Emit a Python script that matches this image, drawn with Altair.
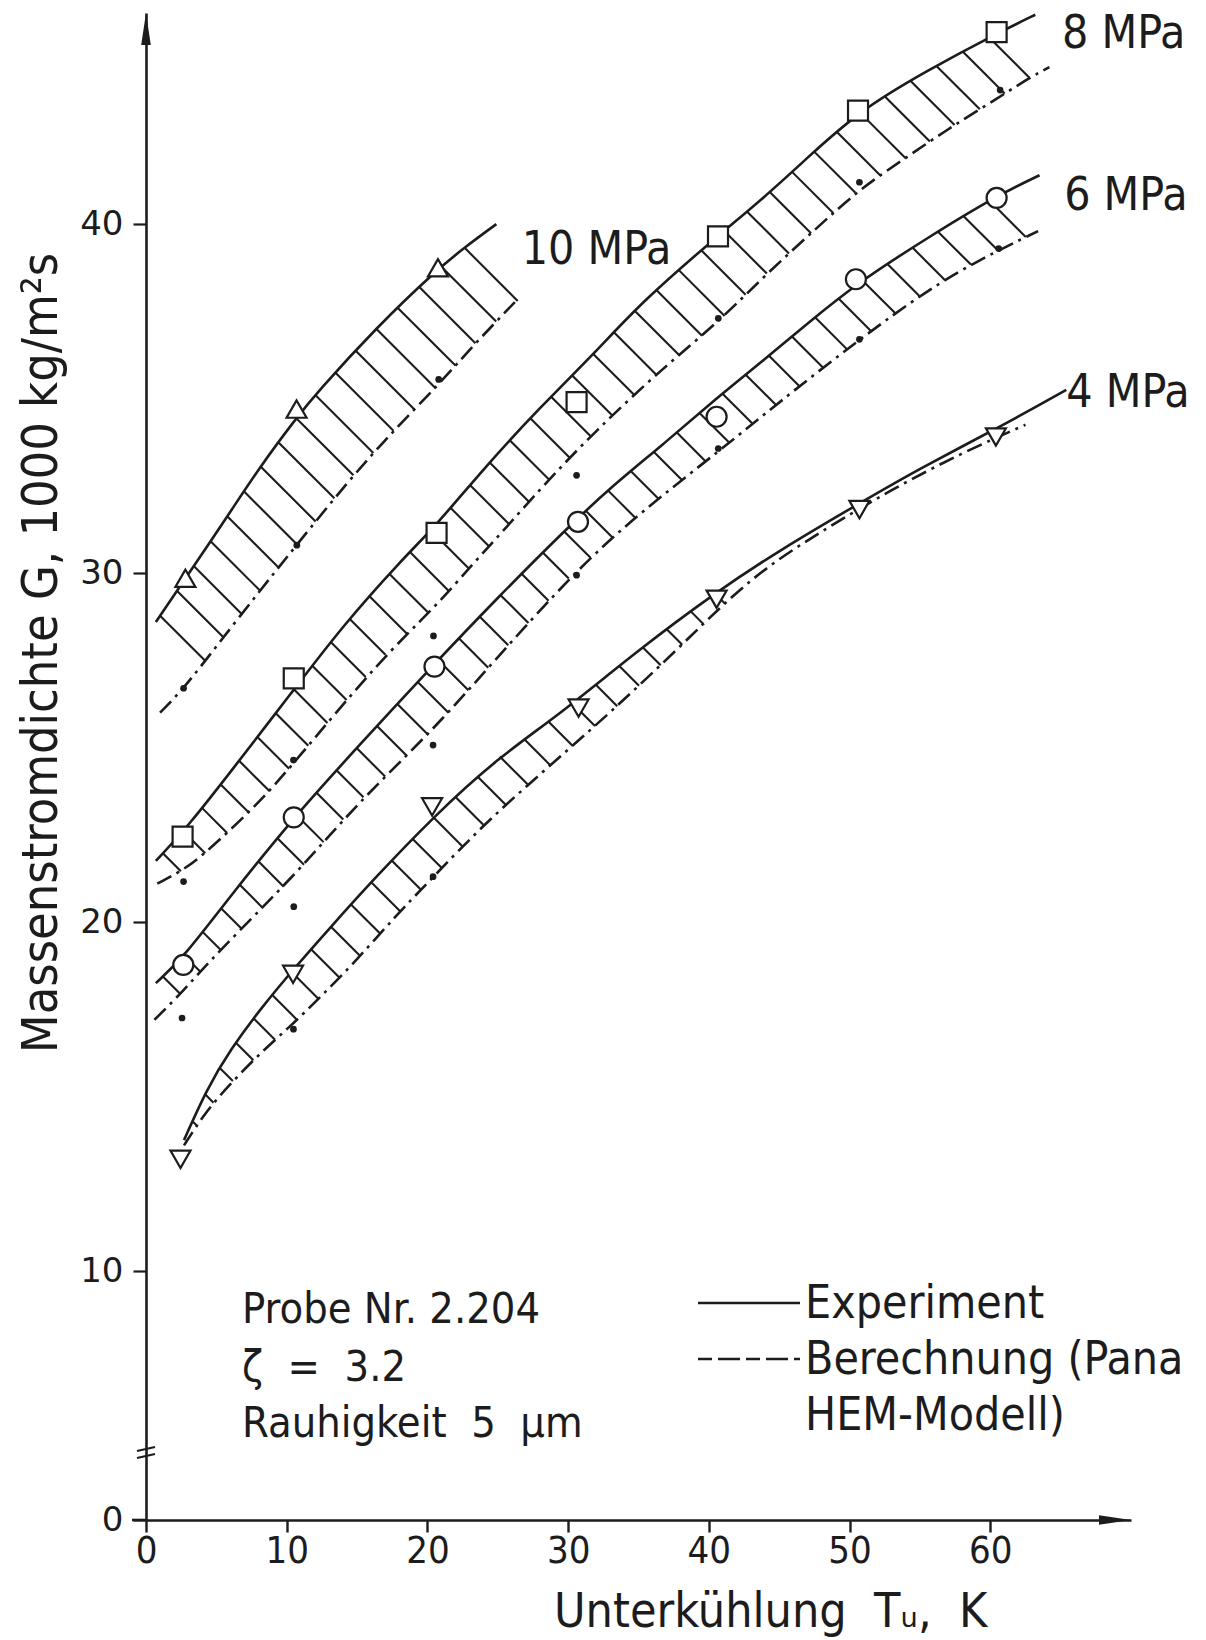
import numpy as np
import pandas as pd
import altair as alt

# ---------------------------------------------------------------------------
# Massenstromdichte G (1000 kg/m^2 s) over Unterkühlung T_u (K), Probe Nr. 2.204
# ---------------------------------------------------------------------------

# Experiment (solid curves)
exp10_x = [0.7, 2.8, 5.75, 8.1, 10.7, 12.1, 16.4, 20.7, 22.7, 24.9]
exp10_y = [28.6, 29.85, 31.6, 33.05, 34.45, 35.15, 37.05, 38.7, 39.35, 40.0]

exp8_x = [0.7, 3.1, 6.0, 10.4, 14.0, 18.1, 20.7, 24.0, 28.0, 32.0, 35.3, 40.6, 43.9, 47.0, 50.7, 55.5, 60.4, 63.2]
exp8_y = [21.75, 22.8, 24.3, 26.6, 28.5, 30.35, 31.4, 33.0, 34.75, 36.35, 37.8, 39.65, 40.75, 41.9, 43.25, 44.4, 45.45, 46.0]

exp6_x = [0.7, 2.7, 6.0, 10.5, 15.0, 20.5, 25.0, 29.7, 33.0, 36.8, 40.5, 43.9, 47.0, 50.5, 55.7, 60.4, 63.5]
exp6_y = [18.25, 19.0, 20.75, 23.0, 25.0, 27.4, 29.3, 31.2, 32.45, 33.7, 35.0, 36.1, 37.15, 38.3, 39.65, 40.8, 41.4]

exp4_x = [2.7, 4.3, 6.0, 8.3, 10.7, 13.0, 16.0, 20.5, 25.0, 29.4, 35.0, 40.5, 45.0, 50.7, 55.0, 61.2, 65.4]
exp4_y = [13.75, 15.2, 16.35, 17.6, 18.75, 19.8, 21.15, 23.05, 24.7, 25.95, 27.8, 29.45, 30.65, 32.0, 33.0, 34.3, 35.25]

# Berechnung, Pana HEM-Modell (dash-dot curves)
calc10_x = [1.0, 2.7, 5.0, 8.3, 10.7, 14.3, 17.4, 20.8, 23.2, 26.3]
calc10_y = [26.0, 26.7, 27.9, 29.6, 30.8, 32.6, 34.0, 35.4, 36.5, 37.8]

calc8_x = [0.8, 2.7, 4.3, 8.0, 10.4, 16.6, 20.5, 23.3, 25.6, 28.2, 32.0, 36.8, 40.7, 43.9, 47.7, 50.7, 54.0, 56.9, 59.7, 62.8, 64.2]
calc8_y = [21.1, 21.5, 22.0, 23.4, 24.5, 27.5, 29.0, 30.3, 31.3, 32.5, 34.1, 35.9, 37.2, 38.5, 39.9, 41.0, 41.9, 42.7, 43.4, 44.2, 44.5]

calc6_x = [0.6, 2.6, 5.0, 10.5, 15.0, 20.3, 25.0, 30.5, 35.0, 40.9, 45.0, 50.7, 55.5, 59.3, 63.4]
calc6_y = [17.2, 18.0, 19.1, 21.3, 23.4, 25.45, 27.6, 30.05, 31.7, 33.55, 34.9, 36.7, 38.1, 39.0, 39.8]

calc4_x = [2.7, 4.3, 6.3, 8.4, 10.5, 12.5, 14.5, 17.8, 20.2, 24.0, 28.6, 33.0, 38.0, 43.0, 48.0, 53.0, 58.0, 62.5]
calc4_y = [13.6, 14.6, 15.5, 16.35, 17.1, 17.9, 18.7, 20.2, 21.2, 22.8, 24.45, 26.0, 27.9, 29.9, 31.2, 32.4, 33.45, 34.25]

# Measured points (open symbols)
pts10_x = [2.8, 10.7, 20.75]
pts10_y = [29.85, 34.7, 38.75]
pts8_x = [2.6, 10.5, 20.65, 30.6, 40.65, 50.6, 60.45]
pts8_y = [22.45, 26.98, 31.15, 34.9, 39.65, 43.25, 45.5]
pts6_x = [2.65, 10.5, 20.5, 30.7, 40.55, 50.45, 60.45]
pts6_y = [18.77, 23.0, 27.32, 31.47, 34.48, 38.42, 40.75]
pts4_x = [2.45, 10.45, 20.33, 30.74, 40.55, 50.7, 60.4]
pts4_y = [13.2, 18.5, 23.3, 26.13, 29.25, 31.82, 33.9]

# Calculated points (small dots)
dot10_x = [2.67, 10.72, 20.8]
dot10_y = [26.7, 30.8, 35.55]
dot8_x = [2.67, 10.48, 20.43, 30.6, 40.67, 50.7, 60.7]
dot8_y = [21.16, 24.64, 28.2, 32.8, 37.3, 41.2, 43.84]
dot6_x = [2.56, 10.5, 20.4, 30.6, 40.67, 50.7, 60.6]
dot6_y = [17.25, 20.44, 25.07, 29.94, 33.57, 36.7, 39.3]
dot4_x = [10.48, 20.4]
dot4_y = [16.93, 21.3]

# Pressure labels
press_labels = ["10 MPa", "8 MPa", "6 MPa", "4 MPa"]
press_label_x = [26.7, 65.1, 65.25, 65.4]
press_label_y = [38.85, 45.05, 40.4, 34.75]

# hatched band range (Unterkühlung) per pressure
hatch_from = [1.0, 1.2, 1.2, 3.3]
hatch_to = [23.0, 61.0, 61.5, 42.0]

x_ticks = [0, 10, 20, 30, 40, 50, 60]
y_ticks = [0, 10, 20, 30, 40]

NB = "\u00a0"
info_lines = ["Probe Nr. 2.204", f"\u03b6{NB}{NB}={NB}{NB}3.2", f"Rauhigkeit{NB}{NB}5{NB}{NB}\u00b5m"]
legend_lines = ["Experiment", "Berechnung (Pana", "HEM-Modell)"]
x_title = f"Unterk\u00fchlung{NB}{NB}T\u1d64,{NB}{NB}K"
y_title = "Massenstromdichte G, 1000 kg/m\u00b2s"

# ---------------------------------------------------------------------------
INK = "#1c1c1c"
FONT = "DejaVu Sans Condensed, DejaVu Sans, sans-serif"
NARROW = "Liberation Sans Narrow, DejaVu Sans Condensed, sans-serif"

PLOT_W, PLOT_H = 985, 1507
X_MAX = 70.0
Y_TOP = 46.05
Y10_PX = 1258          # broken axis: 0..10 compressed below this pixel
KX = PLOT_W / X_MAX
KY = Y10_PX / (Y_TOP - 10.0)

xs_scale = alt.Scale(domain=[0, X_MAX], nice=False, zero=False)
ys_scale = alt.Scale(domain=[0, 10, Y_TOP], range=[PLOT_H, Y10_PX, 0], nice=False, zero=False)

AX = alt.Axis(values=x_ticks, title=None, grid=False, tickSize=12, tickWidth=2.4, domainWidth=2.6,
              domainColor=INK, tickColor=INK, labelColor=INK, labelFont=NARROW, labelFontSize=38,
              labelPadding=0, labelFlush=False)
AY = alt.Axis(values=y_ticks, title=None, grid=False, tickSize=13, tickWidth=2.2, domainWidth=2.6,
              domainColor=INK, tickColor=INK, labelColor=INK, labelFont="DejaVu Sans", labelFontSize=34,
              labelPadding=10, labelFlush=False)

exp_curves = {"10": (exp10_x, exp10_y), "8": (exp8_x, exp8_y), "6": (exp6_x, exp6_y), "4": (exp4_x, exp4_y)}
calc_curves = {"10": (calc10_x, calc10_y), "8": (calc8_x, calc8_y), "6": (calc6_x, calc6_y), "4": (calc4_x, calc4_y)}


def curve_frame(curves):
    rows = []
    for key, (cx, cy) in curves.items():
        for i, (a, b) in enumerate(zip(cx, cy)):
            rows.append({"p": key, "i": i, "x": a, "y": b})
    return pd.DataFrame(rows)


def hatch_rows(key, sx, sy, dx, dy, x_from, x_to, step=30.0):
    """Short 45-degree strokes from the solid curve down to the dash-dot curve."""
    xs = np.linspace(sx[0], sx[-1], 3000)
    ys = np.interp(xs, sx, sy)
    arc = np.concatenate([[0.0], np.cumsum(np.hypot(np.diff(xs) * KX, np.diff(ys) * KY))])
    a0, a1 = np.interp(x_from, xs, arc), np.interp(x_to, xs, arc)
    rows = []
    for a in np.arange(a0, a1 + 1e-9, step):
        x0, y0 = np.interp(a, arc, xs), np.interp(a, arc, ys)

        def gap(t):
            return (y0 - t / KY) - np.interp(x0 + t / KX, dx, dy)

        lo, hi = 0.0, 300.0
        if gap(hi) > 0:
            continue
        for _ in range(50):
            mid = 0.5 * (lo + hi)
            if gap(mid) > 0:
                lo = mid
            else:
                hi = mid
        rows.append({"p": key, "x": x0, "y": y0, "x2": x0 + hi / KX, "y2": y0 - hi / KY})
    return rows


hatch = []
for k, key in enumerate(["10", "8", "6", "4"]):
    sx, sy = exp_curves[key]
    dx, dy = calc_curves[key]
    hatch += hatch_rows(key, sx, sy, dx, dy, hatch_from[k], hatch_to[k])
hatch_df = pd.DataFrame(hatch)

pts_df = pd.DataFrame(
    [{"p": "10", "x": a, "y": b} for a, b in zip(pts10_x, pts10_y)]
    + [{"p": "8", "x": a, "y": b} for a, b in zip(pts8_x, pts8_y)]
    + [{"p": "6", "x": a, "y": b} for a, b in zip(pts6_x, pts6_y)]
    + [{"p": "4", "x": a, "y": b} for a, b in zip(pts4_x, pts4_y)]
)
dots_df = pd.DataFrame(
    [{"x": a, "y": b} for a, b in zip(dot10_x + dot8_x + dot6_x + dot4_x, dot10_y + dot8_y + dot6_y + dot4_y)]
)
lab_df = pd.DataFrame({"t": press_labels, "x": press_label_x, "y": press_label_y})

X = lambda f="x": alt.X(f"{f}:Q", scale=xs_scale, axis=AX)
Y = lambda f="y": alt.Y(f"{f}:Q", scale=ys_scale, axis=AY)

solid = alt.Chart(curve_frame(exp_curves)).mark_line(
    interpolate="basis", color=INK, strokeWidth=2.6
).encode(x=X(), y=Y(), detail="p:N", order="i:Q")

dashed = alt.Chart(curve_frame(calc_curves)).mark_line(
    interpolate="basis", color=INK, strokeWidth=2.6, strokeDash=[16, 6, 3, 6]
).encode(x=X(), y=Y(), detail="p:N", order="i:Q")

hatches = alt.Chart(hatch_df).mark_rule(color=INK, strokeWidth=2.1).encode(
    x=X(), y=Y(), x2="x2:Q", y2="y2:Q"
)

symbols = alt.Chart(pts_df).mark_point(
    filled=True, fill="white", fillOpacity=1, stroke=INK, strokeWidth=2.2, size=400, opacity=1
).encode(
    x=X(), y=Y(),
    shape=alt.Shape("p:N", scale=alt.Scale(domain=["10", "8", "6", "4"],
                                           range=["triangle-up", "square", "circle", "triangle-down"]),
                    legend=None),
)

dots = alt.Chart(dots_df).mark_circle(size=45, color=INK, opacity=1).encode(x=X(), y=Y())

labels = alt.Chart(lab_df).mark_text(
    font=FONT, fontSize=46, align="left", baseline="alphabetic", color=INK
).encode(x=X(), y=Y(), text="t:N")

one = pd.DataFrame({"a": [0]})


def ptext(txt, px, py, size=46, angle=0, align="left", baseline="alphabetic"):
    kw = dict(font=FONT, fontSize=size, align=align, baseline=baseline, color=INK, text=txt)
    if angle:
        kw["angle"] = angle
    return alt.Chart(one).mark_text(**kw).encode(x=alt.value(px), y=alt.value(py))


def prule(x1, x2, y1, y2, width=2.4, dash=None):
    kw = dict(color=INK, strokeWidth=width)
    if dash:
        kw["strokeDash"] = dash
    return alt.Chart(one).mark_rule(**kw).encode(
        x=alt.value(x1), x2=alt.value(x2), y=alt.value(y1), y2=alt.value(y2))


decor = [
    # arrow heads on both axes
    alt.Chart(one).mark_point(shape="M0,-1L0.3,1L-0.3,1Z", size=1024, filled=True, color=INK, opacity=1)
    .encode(x=alt.value(0), y=alt.value(16)),
    alt.Chart(one).mark_point(shape="M1,0L-1,-0.3L-1,0.3Z", size=1024, filled=True, color=INK, opacity=1)
    .encode(x=alt.value(PLOT_W - 16), y=alt.value(PLOT_H)),
    # x axis stub left of origin
    prule(-14, 0, PLOT_H, PLOT_H, 2.6),
    # axis break marks
    prule(-9, 9, 1438, 1434, 2.2),
    prule(-9, 9, 1445, 1441, 2.2),
    # legend samples
    prule(552, 654, 1290, 1290, 2.6),
    prule(552, 654, 1346, 1346, 2.6, [14, 6, 22, 6]),
]

texts = [
    ptext(info_lines[0], 96, 1310, size=43),
    ptext(info_lines[1], 96, 1368, size=43),
    ptext(info_lines[2], 96, 1424, size=43),
    ptext(legend_lines[0], 659, 1305),
    ptext(legend_lines[1], 659, 1361),
    ptext(legend_lines[2], 659, 1417),
    ptext(x_title, 408, 1614, size=48),
    ptext(y_title, -104, 640, size=50, angle=270, align="center", baseline="middle"),
]

chart = alt.layer(hatches, dashed, solid, dots, symbols, labels, *decor, *texts).properties(
    width=PLOT_W, height=PLOT_H,
    autosize=alt.AutoSizeParams(type="none"),
    padding={"left": 146, "top": 13, "right": 75, "bottom": 120},
    background="white",
).configure_view(stroke=None)

chart.save("out.html", embed_options={"renderer": "svg", "actions": False})
